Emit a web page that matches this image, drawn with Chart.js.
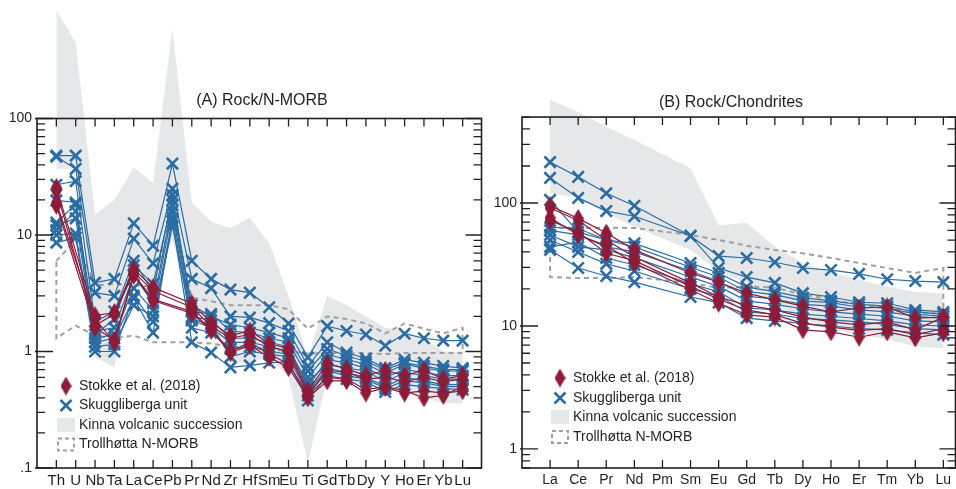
<!DOCTYPE html>
<html>
<head>
<meta charset="utf-8">
<script src="https://cdn.jsdelivr.net/npm/chart.js@4.4.0/dist/chart.umd.min.js"></script>
<style>
  body { margin: 0; background: #fff; overflow: hidden; }
  #wrap { position: relative; width: 956px; height: 489px; }
  canvas { position: absolute; top: 0; }
</style>
</head>
<body>
<div id="wrap">
  <canvas id="morbChart" width="500" height="489" style="left:0"></canvas>
  <canvas id="chondChart" width="476" height="489" style="left:480px"></canvas>
</div>
<script>
// ---- categories ----
const morbElements = ['Th','U','Nb','Ta','La','Ce','Pb','Pr','Nd','Zr','Hf','Sm','Eu','Ti','Gd','Tb','Dy','Y','Ho','Er','Yb','Lu'];
const reeElements = ['La','Ce','Pr','Nd','Pm','Sm','Eu','Gd','Tb','Dy','Ho','Er','Tm','Yb','Lu'];
const legendLabels = ['Stokke et al. (2018)', 'Skuggliberga unit', 'Kinna volcanic succession', 'Trollhøtta N-MORB'];

// ---- (A) Rock/N-MORB ----
const kinnaMorbUpper = [850, 450, 15, 20, 38, 28, 590, 19, 13, 11.5, 14, 8.5, 3.0, 0.9, 3.0, 2.5, 2.0, 1.6, 1.5, 1.3, 1.0, 1.0];
const kinnaMorbLower = [37, 37, 0.9, 0.73, 5, 4, 9, 2.5, 1.8, 0.8, 0.8, 0.9, 0.6, 0.11, 0.6, 0.55, 0.5, 0.5, 0.45, 0.4, 0.36, 0.36];
const trollMorbUpper = [6.0, 9, 3.7, 3.8, 3.7, 3.6, 15, 2.9, 2.7, 2.5, 2.5, 2.5, 2.3, 1.57, 2.0, 1.9, 1.74, 1.43, 1.74, 1.57, 1.43, 1.6];
const trollMorbLower = [1.3, 1.67, 1.37, 1.3, 1.37, 1.2, 1.2, 1.2, 1.17, 1.1, 1.1, 1.05, 1.0, 0.96, 0.97, 0.97, 0.97, 0.95, 0.97, 0.97, 0.97, 0.97];
const skuggMorb = [
  [48, 48, 3.9, 4.2, 12.6, 8.1, 41, 6.0, 4.2, 3.4, 3.2, 2.4, 1.74, 0.89, 1.65, 1.5, 1.4, 1.12, 1.42, 1.3, 1.24, 1.24],
  [47, 37, 3.2, 3.0, 9.3, 5.7, 25, 4.2, 3.5, 2.0, 1.96, 1.75, 1.5, 0.75, 1.2, 0.98, 0.87, 0.72, 0.85, 0.8, 0.75, 0.72],
  [27, 29, 1.8, 2.2, 6.0, 3.2, 22, 2.2, 2.1, 1.5, 1.45, 1.3, 1.2, 0.6, 0.95, 0.85, 0.78, 0.65, 0.78, 0.72, 0.68, 0.68],
  [19.8, 19, 1.5, 1.6, 4.5, 2.6, 18, 2.0, 1.85, 1.3, 1.3, 1.2, 1.1, 0.5, 0.85, 0.8, 0.72, 0.6, 0.7, 0.66, 0.62, 0.62],
  [12.8, 18.3, 1.3, 1.4, 3.5, 2.25, 16, 1.85, 1.6, 1.2, 1.2, 1.1, 1.0, 0.55, 0.78, 0.72, 0.68, 0.55, 0.66, 0.62, 0.58, 0.58],
  [12.1, 13.9, 1.2, 1.3, 2.85, 1.45, 14, 1.6, 1.45, 1.05, 1.1, 1.0, 0.95, 0.45, 0.72, 0.66, 0.6, 0.5, 0.6, 0.56, 0.52, 0.52],
  [10, 10.3, 1.1, 1.15, 2.5, 2.0, 13, 1.2, 0.98, 0.73, 0.76, 0.8, 0.82, 0.38, 0.62, 0.58, 0.55, 0.45, 0.52, 0.5, 0.48, 0.47],
  [8.6, 9.5, 1.0, 1.0, 3.0, 1.8, 12, 1.9, 1.7, 0.9, 1.0, 0.95, 0.9, 0.42, 0.68, 0.62, 0.58, 0.48, 0.56, 0.54, 0.5, 0.5],
  [11, 16, 1.4, 1.9, 5.5, 3.8, 20, 2.5, 2.0, 1.7, 1.6, 1.45, 1.3, 0.68, 1.05, 0.92, 0.82, 0.7, 0.8, 0.75, 0.7, 0.7]
];
const stokkeMorb = [
  [25.6, null, 2.03, 2.16, 5.1, 3.55, null, 2.58, 1.77, 1.37, 1.5, 1.17, 1.06, 0.46, 0.79, 0.71, 0.62, 0.69, 0.62, 0.69, 0.58, 0.62],
  [24, null, 1.67, 2.1, 4.8, 3.3, null, 2.4, 1.65, 1.3, 1.4, 1.1, 1.0, 0.43, 0.69, 0.66, 0.58, 0.6, 0.55, 0.6, 0.55, 0.58],
  [19, null, 1.9, 1.2, 4.5, 2.74, null, 2.12, 1.52, 0.98, 1.13, 0.89, 0.73, 0.40, 0.56, 0.56, 0.44, 0.49, 0.44, 0.46, 0.44, 0.46],
  [18, null, 1.6, 1.25, 4.6, 2.8, null, 2.2, 1.55, 1.0, 1.2, 0.95, 0.78, 0.42, 0.6, 0.58, 0.47, 0.5, 0.46, 0.40, 0.42, 0.5]
];

// ---- (B) Rock/Chondrites ----
const kinnaReeUpper = [690, 550, 415, 325, null, 192, 66, 69, 44, 32.5, 27.5, 23.7, 20.8, 18.9, 18.5];
const kinnaReeLower = [120, 111, 83, 64, null, 41.5, 28, 22, 15, 11.5, 9.5, 8.5, 7.8, 6.8, 6.6];
const trollReeUpper = [63.5, 62.6, 63, 62.6, null, 55, 50, 45, 41.5, 39, 35.7, 32.5, 29.6, 27, 29.6];
const trollReeLower = [25, 24.5, 24.5, 25, null, 22.4, 20.4, 21, 20.5, 18, 16.5, 14.8, 14, 13, 12.5];
const skuggRee = [
  [215, 163, 120, 95, null, 54, 37, 35.7, 33, 29.6, 28.5, 26.5, 24, 23.2, 22.7],
  [160, 110, 86, 78, null, 54, 29.6, 25, 22.4, 18.5, 17.2, 15.6, 15.3, 13.5, 13],
  [106, 58, 50, 47, null, 32.5, 27, 20.7, 19, 17, 16, 15, 14.5, 13, 12.5],
  [63.5, 62, 50, 44, null, 30, 25, 19, 18, 16, 15.5, 14.2, 14, 12.5, 12],
  [60, 55, 44, 40, null, 28, 23, 17.5, 16.5, 15, 14.5, 13.5, 13, 12, 11.5],
  [55, 44, 41.6, 36, null, 25, 21, 16, 15, 13.8, 13, 12.5, 12, 11, 10.8],
  [44, 48, 35.7, 31.3, null, 22, 19, 14, 13.5, 12.5, 12, 11.5, 11, 10.2, 10],
  [41.6, 29.6, 25.5, 22.7, null, 17.2, 15.5, 11.6, 11, 10.5, 10, 9.5, 9.3, 8.8, 8.5],
  [50, 40, 32, 28, null, 20, 17.5, 13, 12.5, 11.5, 11.2, 10.8, 10.3, 9.5, 9.3]
];
const stokkeRee = [
  [95, 75, 57, 41.6, null, 27, 22.7, 18.5, 16.3, 14.5, 13, 14, 14.3, 11.6, 11.8],
  [91, 72, 50, 36.4, null, 22.4, 17.2, 14.8, 13.5, 11.8, 10.8, 10.2, 10.8, 9.3, 11.8],
  [76, 55, 45, 32.5, null, 19.7, 15.3, 12.3, 11.8, 9.3, 8.95, 8.1, 8.95, 8.0, 8.8],
  [72, 58, 39, 34, null, 21, 16.5, 13.5, 12.3, 10.5, 9.8, 9.2, 9.5, 8.5, 9.5]
];

const BLUE = '#2b6ca3';
const RED = '#8e1b38';
const GREY_FILL = '#e6e7e8';
const DASH_GREY = '#a0a0a0';
const INK = '#231f20';
const FONT = '"Liberation Sans", Arial, sans-serif';

Chart.defaults.font.family = FONT;
Chart.defaults.color = INK;

// tall diamond marker for the Stokke samples
function makeDiamond() {
  const c = document.createElement('canvas');
  c.width = 11; c.height = 19;
  const g = c.getContext('2d');
  g.fillStyle = RED;
  g.beginPath();
  g.moveTo(5.5, 0); g.lineTo(11, 9.5); g.lineTo(5.5, 19); g.lineTo(0, 9.5);
  g.closePath();
  g.fill();
  return c;
}
const diamond = makeDiamond();

function pts(values) {
  return values.map((v, i) => ({x: i, y: v}));
}
// closed outline: upper forward, lower backward, back to start
function outline(upper, lower) {
  const out = pts(upper);
  for (let i = lower.length - 1; i >= 0; i--) out.push({x: i, y: lower[i]});
  out.push({x: 0, y: upper[0]});
  return out;
}

function buildDatasets(d) {
  const sets = [];
  sets.push({data: pts(d.kinnaUpper), borderColor: 'rgba(0,0,0,0)', borderWidth: 0,
             pointRadius: 0, fill: false, spanGaps: true, order: 10});
  sets.push({data: pts(d.kinnaLower), borderColor: 'rgba(0,0,0,0)', borderWidth: 0,
             pointRadius: 0, fill: '-1', backgroundColor: GREY_FILL, spanGaps: true, order: 9});
  sets.push({data: outline(d.trollUpper, d.trollLower), borderColor: DASH_GREY, borderWidth: 2,
             borderDash: [5, 4], pointRadius: 0, fill: false, spanGaps: true, order: 8});
  d.skugg.forEach(s => sets.push({
    data: pts(s), borderColor: BLUE, borderWidth: 1.2, fill: false, spanGaps: true, order: 5,
    pointStyle: 'crossRot', pointRadius: 8, pointBorderWidth: 2.6,
    pointBorderColor: BLUE, pointBackgroundColor: BLUE
  }));
  d.stokke.forEach(s => sets.push({
    data: pts(s), borderColor: RED, borderWidth: 1.2, fill: false, spanGaps: true, order: 2,
    pointStyle: diamond, pointRadius: 6
  }));
  return sets;
}

function decadeLabel(v, top) {
  const e = Math.log10(v);
  if (Math.abs(e - Math.round(e)) > 1e-6 || v > top * 1.0001) return '';
  const r = Math.pow(10, Math.round(e));
  return r < 1 ? String(r).replace(/^0/, '') : String(r);
}

function drawLegend(ctx, lx, rows) {
  ctx.save();
  ctx.drawImage(diamond, lx - 5.5, rows[0] - 9.5);
  ctx.strokeStyle = BLUE;
  ctx.lineWidth = 2.6;
  ctx.beginPath();
  ctx.moveTo(lx - 5.5, rows[1] - 5.5); ctx.lineTo(lx + 5.5, rows[1] + 5.5);
  ctx.moveTo(lx + 5.5, rows[1] - 5.5); ctx.lineTo(lx - 5.5, rows[1] + 5.5);
  ctx.stroke();
  ctx.fillStyle = GREY_FILL;
  ctx.fillRect(lx - 9, rows[2] - 7, 18, 14);
  ctx.setLineDash([4, 3]);
  ctx.strokeStyle = DASH_GREY;
  ctx.lineWidth = 2;
  ctx.strokeRect(lx - 8, rows[3] - 6, 16, 12);
  ctx.setLineDash([]);
  ctx.fillStyle = INK;
  ctx.font = '14px ' + FONT;
  ctx.textAlign = 'left';
  ctx.textBaseline = 'middle';
  legendLabels.forEach((t, i) => ctx.fillText(t, lx + 13, rows[i]));
  ctx.restore();
}

// frame with inward ticks, title and legend
function makeDecor(cfg) {
  return {
    id: 'decor',
    afterDatasetsDraw(chart) {
      const {ctx, chartArea} = chart;
      const xs = chart.scales.x, ys = chart.scales.y;
      const top = ys.getPixelForValue(cfg.frameTop);
      const bottom = chartArea.bottom;
      const left = chartArea.left, right = chartArea.right - 0.5;
      ctx.save();
      ctx.strokeStyle = INK;
      ctx.lineWidth = 1.6;
      ctx.strokeRect(left, top, right - left, bottom - top);
      ctx.lineWidth = 1.3;
      ctx.beginPath();
      cfg.cats.forEach((c, i) => {
        const px = xs.getPixelForValue(i);
        ctx.moveTo(px, top); ctx.lineTo(px, top + 8);
        ctx.moveTo(px, bottom); ctx.lineTo(px, bottom - 8);
      });
      for (let e = -2; e <= 3; e++) {
        for (let m = 1; m < 10; m++) {
          const v = m * Math.pow(10, e);
          if (v < ys.min * 0.999 || v > cfg.frameTop * 1.001) continue;
          const py = ys.getPixelForValue(v);
          const len = m === 1 ? 16 : 8;
          ctx.moveTo(left - (m === 1 ? 2 : 0), py); ctx.lineTo(left + len, py);
          ctx.moveTo(right, py); ctx.lineTo(right - len, py);
        }
      }
      ctx.stroke();
      ctx.restore();
    },
    afterDraw(chart) {
      const ctx = chart.ctx;
      ctx.save();
      ctx.fillStyle = INK;
      ctx.font = '16px ' + FONT;
      ctx.textAlign = 'center';
      ctx.textBaseline = 'middle';
      ctx.fillText(cfg.title, cfg.titleX, cfg.titleY);
      ctx.restore();
      drawLegend(ctx, cfg.legendX, cfg.legendRows);
    }
  };
}

function makeChart(id, d, cfg) {
  return new Chart(document.getElementById(id), {
    type: 'line',
    data: {datasets: buildDatasets(d)},
    options: {
      responsive: false,
      animation: false,
      devicePixelRatio: 1,
      layout: {padding: cfg.padding, autoPadding: false},
      plugins: {legend: {display: false}, tooltip: {enabled: false}},
      scales: {
        x: {
          type: 'linear', min: -1, max: cfg.xMax,
          grid: {display: false, drawTicks: false}, border: {display: false},
          afterFit: s => { s.height = 21; s.paddingLeft = 0; s.paddingRight = 0; },
          ticks: {
            stepSize: 1, autoSkip: false, maxRotation: 0, padding: 4, includeBounds: false,
            color: INK, font: {size: cfg.xFont},
            callback: v => (Number.isInteger(v) && cfg.cats[v]) ? cfg.cats[v] : ''
          }
        },
        y: {
          type: 'logarithmic', min: cfg.yMin, max: cfg.yMax,
          grid: {display: false, drawTicks: false}, border: {display: false},
          afterFit: s => { s.width = cfg.yWidth; s.paddingTop = 0; s.paddingBottom = 0; },
          ticks: {
            autoSkip: false, padding: 5, color: INK, font: {size: 14},
            callback: v => decadeLabel(v, cfg.frameTop)
          }
        }
      }
    },
    plugins: [makeDecor(cfg)]
  });
}

makeChart('morbChart', {
  kinnaUpper: kinnaMorbUpper, kinnaLower: kinnaMorbLower,
  trollUpper: trollMorbUpper, trollLower: trollMorbLower,
  skugg: skuggMorb, stokke: stokkeMorb
}, {
  cats: morbElements, xMax: 22, yMin: 0.1, yMax: 1000, frameTop: 100,
  padding: {top: 2, right: 18, left: 0, bottom: 0}, yWidth: 37, xFont: 15,
  title: '(A) Rock/N-MORB', titleX: 262, titleY: 101,
  legendX: 66, legendRows: [386, 405.5, 425, 444.5]
});

makeChart('chondChart', {
  kinnaUpper: kinnaReeUpper, kinnaLower: kinnaReeLower,
  trollUpper: trollReeUpper, trollLower: trollReeLower,
  skugg: skuggRee, stokke: stokkeRee
}, {
  cats: reeElements, xMax: 14.45, yMin: 0.7, yMax: 4000, frameTop: 500,
  padding: {top: 6, right: 0, left: 0, bottom: 0}, yWidth: 42, xFont: 14,
  title: '(B) Rock/Chondrites', titleX: 251, titleY: 103,
  legendX: 80, legendRows: [378, 398, 417, 437]
});
</script>
</body>
</html>
